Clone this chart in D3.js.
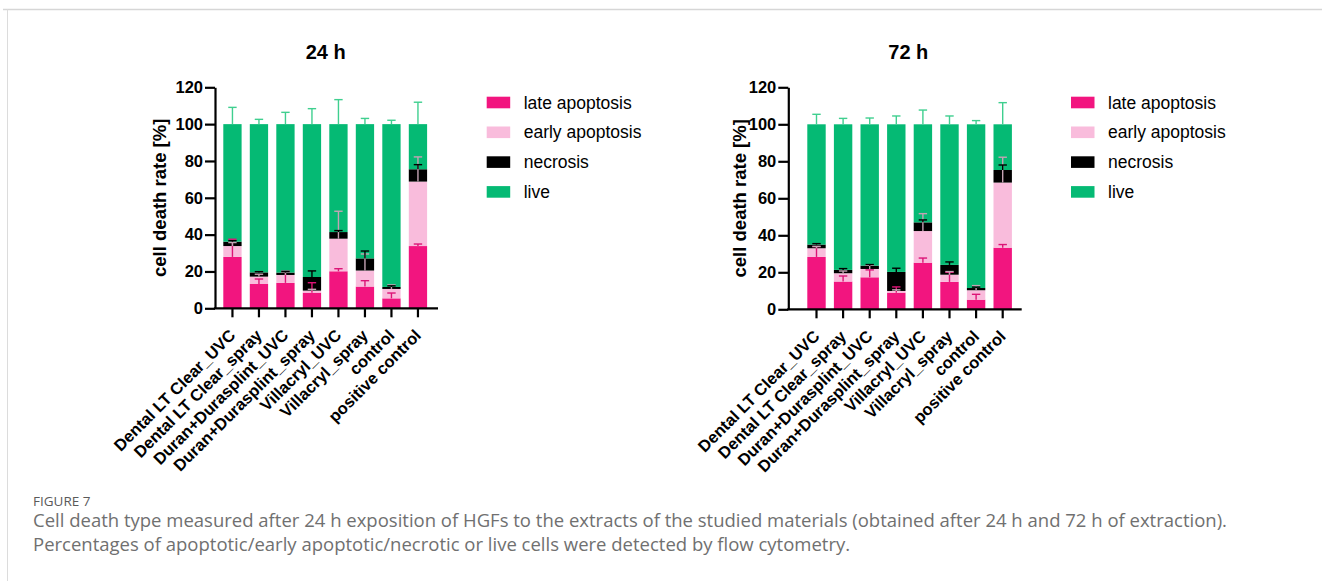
<!DOCTYPE html>
<html>
<head>
<meta charset="utf-8">
<script src="https://cdn.jsdelivr.net/npm/d3@7"></script>
<style>
  body { margin: 0; background: #fff; }
  svg { display: block; }
  .tick text { font-family: "Liberation Sans", Arial, sans-serif; font-weight: bold; }
</style>
</head>
<body>
<svg id="fig" width="1322" height="581"></svg>
<script>
// categories and stacked segments (values in %)
const categories = ["Dental LT Clear_UVC", "Dental LT Clear_spray", "Duran+Durasplint_UVC",
  "Duran+Durasplint_spray", "Villacryl_UVC", "Villacryl_spray", "control", "positive control"];
const keys = ["late", "early", "necrosis", "live"];
const legendLabels = ["late apoptosis", "early apoptosis", "necrosis", "live"];
const yTicks = [0, 20, 40, 60, 80, 100, 120];

// 24 h extracts
const late24  = [27.9, 13.2, 13.8, 8.5, 20.1, 11.8, 5.4, 33.8];
const early24 = [5.9, 4.0, 4.3, 1.1, 17.7, 8.7, 5.1, 35.0];
const necro24 = [2.4, 2.3, 1.3, 7.4, 3.6, 6.6, 1.1, 6.7];
const live24  = [63.8, 80.5, 80.6, 83.0, 58.6, 72.9, 88.4, 24.5];
const lateErr24  = [9.6, 2.7, 6.3, 5.4, 1.4, 3.2, 2.9, 1.1];
const earlyErr24 = [1.9, 1.3, 1.5, 0.7, 14.9, 9.0, 2.2, 13.4];
const necroErr24 = [0.5, 0.4, 0.5, 3.3, 0.8, 4.0, 0.6, 2.5];
const liveErr24  = [9.1, 2.6, 6.4, 8.4, 13.3, 3.1, 2.1, 11.9];

// 72 h extracts
const late72  = [28.3, 15.0, 17.3, 9.0, 25.2, 14.8, 5.2, 33.3];
const early72 = [4.7, 4.5, 4.5, 0.9, 17.1, 3.9, 5.1, 35.2];
const necro72 = [2.0, 1.8, 1.8, 10.3, 4.7, 5.3, 1.2, 6.8];
const live72  = [65.0, 78.7, 76.4, 79.8, 53.0, 76.0, 88.5, 24.7];
const lateErr72  = [5.6, 3.0, 4.0, 3.1, 2.5, 5.2, 2.9, 1.7];
const earlyErr72 = [1.0, 1.2, 2.0, 0.6, 9.4, 1.7, 2.5, 13.7];
const necroErr72 = [0.5, 0.7, 0.6, 2.0, 1.3, 1.6, 0.5, 2.7];
const liveErr72  = [5.4, 3.2, 3.4, 4.5, 7.7, 4.5, 2.0, 11.7];

const fill = { late: "#f2157f", early: "#f9bcdc", necrosis: "#000000", live: "#05ba74" };
const errColor = { late: "#dc1476", early: "#c5a3b4", necrosis: "#000000", live: "#3fcf8f" };

const svg = d3.select("#fig");
const font = '"Liberation Sans", Arial, sans-serif';

// frame lines
svg.append("line").attr("x1", 3).attr("x2", 1322).attr("y1", 9.5).attr("y2", 9.5)
  .attr("stroke", "#d6d6d6").attr("stroke-width", 1.5);
svg.append("line").attr("x1", 7.5).attr("x2", 7.5).attr("y1", 9.5).attr("y2", 581)
  .attr("stroke", "#dcdcdc").attr("stroke-width", 1);

function drawPanel(opt) {
  var rows = categories.map(function(c, i) {
    return { cat: c, late: opt.late[i], early: opt.early[i], necrosis: opt.necro[i], live: opt.live[i] };
  });
  var errs = { late: opt.lateErr, early: opt.earlyErr, necrosis: opt.necroErr, live: opt.liveErr };
  var series = d3.stack().keys(keys)(rows);

  var x = d3.scaleBand().domain(categories)
    .range([opt.bar0, opt.bar0 + 7 * opt.step + opt.bw])
    .paddingInner(1 - opt.bw / opt.step).paddingOuter(0);
  var y = d3.scaleLinear().domain([0, 120]).range([opt.y0, opt.y120]);

  var g = svg.append("g");

  g.append("text").attr("x", opt.titleX).attr("y", 59)
    .attr("text-anchor", "middle").attr("font-family", font).attr("font-weight", "bold")
    .attr("font-size", 20).text(opt.title);

  // bars
  g.selectAll("g.seg").data(series).enter().append("g")
    .attr("fill", function(d) { return fill[d.key]; })
    .selectAll("rect").data(function(d) { return d; }).enter().append("rect")
    .attr("x", function(d) { return x(d.data.cat); })
    .attr("width", x.bandwidth())
    .attr("y", function(d) { return y(d[1]); })
    .attr("height", function(d) { return y(d[0]) - y(d[1]); });

  // error bars (upper only)
  series.forEach(function(s) {
    var eg = g.append("g").attr("stroke", errColor[s.key]).attr("stroke-width", 1.4).attr("fill", "none");
    s.forEach(function(d, i) {
      var cx = x(d.data.cat) + x.bandwidth() / 2;
      var top = d[1] + errs[s.key][i];
      eg.append("line").attr("x1", cx).attr("x2", cx).attr("y1", y(d[1])).attr("y2", y(top));
      eg.append("line").attr("x1", cx - 4.2).attr("x2", cx + 4.2).attr("y1", y(top)).attr("y2", y(top));
    });
  });

  // y axis
  var ya = g.append("g").attr("transform", "translate(" + opt.ax + ",0)")
    .call(d3.axisLeft(y).tickValues(yTicks).tickSize(10).tickSizeOuter(0).tickPadding(2));
  ya.selectAll("path, line").attr("stroke", "#000").attr("stroke-width", 2.2);
  ya.selectAll("text").attr("font-size", 16.5).attr("fill", "#000");

  // x axis
  var xa = g.append("g").attr("transform", "translate(0," + opt.y0 + ")")
    .call(d3.axisBottom(x).tickSize(9).tickSizeOuter(0));
  xa.select(".domain").remove();
  xa.selectAll("line").attr("stroke", "#000").attr("stroke-width", 2.2);
  xa.selectAll("text")
    .attr("font-size", 16.5).attr("fill", "#000")
    .attr("text-anchor", "end")
    .attr("dy", "0.35em").attr("y", 0)
    .attr("transform", "translate(0,24) rotate(-45)");
  g.append("line").attr("x1", opt.ax - 1.1).attr("x2", opt.axEnd)
    .attr("y1", opt.y0).attr("y2", opt.y0).attr("stroke", "#000").attr("stroke-width", 2.2);

  // y label
  g.append("text")
    .attr("transform", "translate(" + opt.labelX + "," + ((opt.y0 + opt.y120) / 2) + ") rotate(-90)")
    .attr("text-anchor", "middle").attr("dy", "0.35em")
    .attr("font-family", font).attr("font-weight", "bold").attr("font-size", 18.5)
    .text("cell death rate [%]");

  // legend
  var lg = g.append("g");
  keys.forEach(function(k, i) {
    var cy = 102.5 + i * 29.8;
    lg.append("rect").attr("x", opt.legX).attr("y", cy - 5.8).attr("width", 23.5).attr("height", 11.6)
      .attr("fill", fill[k]);
    lg.append("text").attr("x", opt.legX + 37).attr("y", cy).attr("dy", "0.35em")
      .attr("font-family", font).attr("font-size", 17.5).attr("fill", "#000")
      .text(legendLabels[i]);
  });
}

drawPanel({ title: "24 h", titleX: 325.7, ax: 215, axEnd: 438, y0: 308.3, y120: 87.3,
  bar0: 223.3, step: 26.5, bw: 18.3, labelX: 159.5, legX: 486.7,
  late: late24, early: early24, necro: necro24, live: live24,
  lateErr: lateErr24, earlyErr: earlyErr24, necroErr: necroErr24, liveErr: liveErr24 });

drawPanel({ title: "72 h", titleX: 908.3, ax: 788.3, axEnd: 1021.7, y0: 309.3, y120: 87.3,
  bar0: 807.3, step: 26.6, bw: 18.4, labelX: 740, legX: 1071,
  late: late72, early: early72, necro: necro72, live: live72,
  lateErr: lateErr72, earlyErr: earlyErr72, necroErr: necroErr72, liveErr: liveErr72 });

// caption
const capFont = '"Open Sans", "Noto Sans", sans-serif';
svg.append("text").attr("x", 33).attr("y", 505.5).attr("font-family", capFont)
  .attr("font-size", 13.5).attr("fill", "#5a5a5a").text("FIGURE 7");
const captionLines = [
  "Cell death type measured after 24 h exposition of HGFs to the extracts of the studied materials (obtained after 24 h and 72 h of extraction).",
  "Percentages of apoptotic/early apoptotic/necrotic or live cells were detected by flow cytometry."
];
svg.selectAll("text.cap").data(captionLines).enter().append("text")
  .attr("class", "cap").attr("x", 33).attr("y", function(d, i) { return 527 + i * 24; })
  .attr("font-family", capFont).attr("font-size", 18.5).attr("fill", "#707070")
  .text(function(d) { return d; });
</script>
</body>
</html>
